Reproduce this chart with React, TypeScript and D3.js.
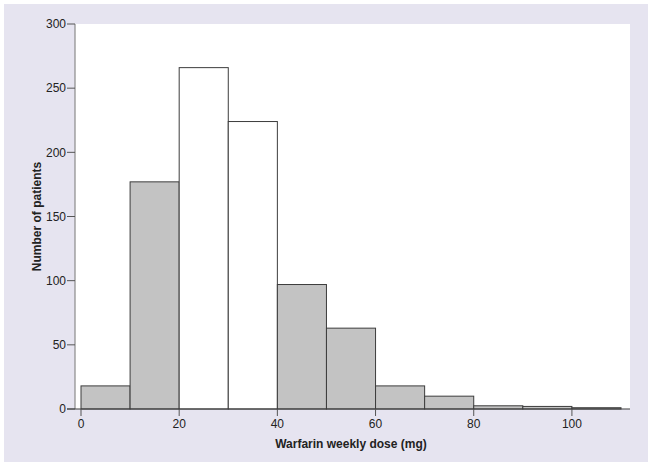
import * as d3 from "d3";

// histogram bins (mg, lower edge) and counts
const binStarts = [0, 10, 20, 30, 40, 50, 60, 70, 80, 90, 100];
const binWidth = 10;
const counts = [18, 177, 266, 224, 97, 63, 18, 10, 2.5, 2, 1];
// bins drawn without fill
const openBins = [20, 30];
const xTicks = [0, 20, 40, 60, 80, 100];
const yTicks = [0, 50, 100, 150, 200, 250, 300];

const W = 654;
const H = 469;
const font = "'Liberation Sans', Arial, Helvetica, sans-serif";

export default function App() {
  const x = d3.scaleLinear().domain([0, 110]).range([81, 621]);
  const y = d3.scaleLinear().domain([0, 300]).range([409, 24]);
  const axisLeft = 75;
  const plotRight = 630;

  return (
    <svg
      width={W}
      height={H}
      style={{ position: "absolute", left: 0, top: 0, fontFamily: font }}
    >
      <rect x={0} y={0} width={W} height={H} fill="#ffffff" />
      <rect x={4} y={4} width={644} height={458} fill="#e6e4f0" />
      <rect
        x={axisLeft}
        y={y(300)}
        width={plotRight - axisLeft}
        height={y(0) - y(300)}
        fill="#ffffff"
      />

      {/* bars */}
      {binStarts.map((b, i) => (
        <rect
          key={b}
          x={x(b)}
          y={y(counts[i])}
          width={x(b + binWidth) - x(b)}
          height={y(0) - y(counts[i])}
          fill={openBins.includes(b) ? "#ffffff" : "#c3c3c3"}
          stroke="#3c3c3c"
          strokeWidth={1}
        />
      ))}

      {/* y axis */}
      <line x1={axisLeft} x2={axisLeft} y1={y(300)} y2={y(0)} stroke="#8a8a8a" strokeWidth={1.2} />
      {yTicks.map((t) => (
        <g key={t} transform={`translate(0,${y(t)})`}>
          <line x1={axisLeft - 8} x2={axisLeft} stroke="#555" strokeWidth={1} />
          <text
            x={axisLeft - 9}
            dy="0.35em"
            textAnchor="end"
            fontSize={12}
            fill="#222"
          >
            {t}
          </text>
        </g>
      ))}

      {/* x axis */}
      <line x1={axisLeft - 8} x2={plotRight} y1={y(0)} y2={y(0)} stroke="#3c3c3c" strokeWidth={1.2} />
      {xTicks.map((t) => (
        <g key={t} transform={`translate(${x(t)},${y(0)})`}>
          <line y1={0} y2={7} stroke="#555" strokeWidth={1} />
          <text y={19} textAnchor="middle" fontSize={12} fill="#222">
            {t}
          </text>
        </g>
      ))}

      <text
        x={(x(0) + x(110)) / 2}
        y={448}
        textAnchor="middle"
        fontSize={12}
        fontWeight="bold"
        fill="#222"
      >
        Warfarin weekly dose (mg)
      </text>
      <text
        transform={`translate(41,${(y(0) + y(300)) / 2}) rotate(-90)`}
        textAnchor="middle"
        fontSize={12}
        fontWeight="bold"
        fill="#222"
      >
        Number of patients
      </text>
    </svg>
  );
}
